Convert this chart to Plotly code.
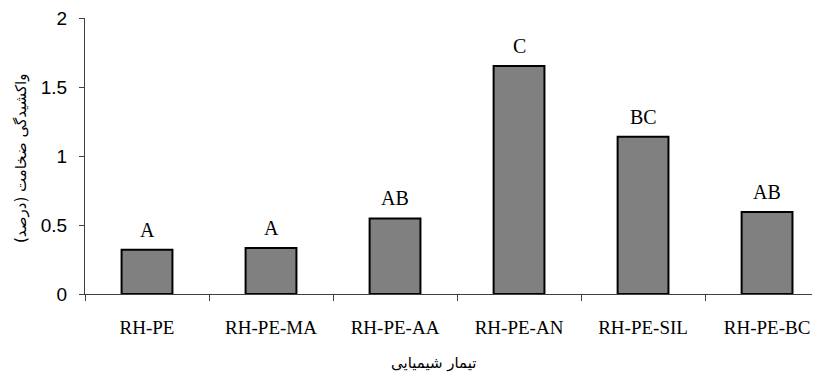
import plotly.graph_objects as go

categories = ["RH-PE", "RH-PE-MA", "RH-PE-AA", "RH-PE-AN", "RH-PE-SIL", "RH-PE-BC"]
values = [0.32, 0.333, 0.548, 1.652, 1.14, 0.594]
group_letters = ["A", "A", "AB", "C", "BC", "AB"]
y_title = "واکشیدگی ضخامت (درصد)"
x_title = "تیمار شیمیایی"

fig = go.Figure()
fig.add_trace(go.Bar(
    x=categories, y=values, width=0.41,
    marker=dict(color="#808080", line=dict(color="#000000", width=2)),
    showlegend=False, hoverinfo="skip",
))

for c, v, t in zip(categories, values, group_letters):
    fig.add_annotation(x=c, y=v, text=t, showarrow=False, yanchor="bottom", yshift=7,
                       font=dict(family="Liberation Serif", size=20, color="#000"))

fig.add_annotation(xref="paper", yref="paper", x=(434 - 85) / 735, y=-(363 - 294) / 276,
                   text=x_title, showarrow=False, xanchor="center", yanchor="middle",
                   font=dict(family="DejaVu Sans", size=15, color="#000"))
fig.add_annotation(xref="paper", yref="paper", x=-(85 - 21) / 735, y=(294 - 158) / 276,
                   text=y_title, showarrow=False, textangle=-90, xanchor="center", yanchor="middle",
                   font=dict(family="DejaVu Sans", size=15, color="#000"))

# page body has an 8px margin, so the figure is sized/offset to compensate
fig.update_layout(
    width=812, height=369,
    margin=dict(l=77, r=0, t=10, b=83),
    paper_bgcolor="white", plot_bgcolor="white",
    bargap=0.59,
    xaxis=dict(
        type="category", range=[-0.5, 5.427], showgrid=False,
        showline=True, linecolor="#404040", linewidth=1,
        ticks="outside", tickson="boundaries", ticklen=6, tickcolor="#404040",
        tickfont=dict(family="Liberation Serif", size=19, color="#000"),
        ticklabelstandoff=16,
    ),
    yaxis=dict(
        range=[0, 2], tickvals=[0, 0.5, 1, 1.5, 2], showgrid=False, zeroline=False,
        showline=True, linecolor="#404040", linewidth=1,
        ticks="outside", ticklen=5, tickcolor="#404040",
        tickfont=dict(family="Liberation Sans Narrow, Liberation Sans", size=19, color="#000"),
        ticklabelstandoff=8, ticklabeloverflow="allow",
    ),
)

fig.write_html("out.html")
